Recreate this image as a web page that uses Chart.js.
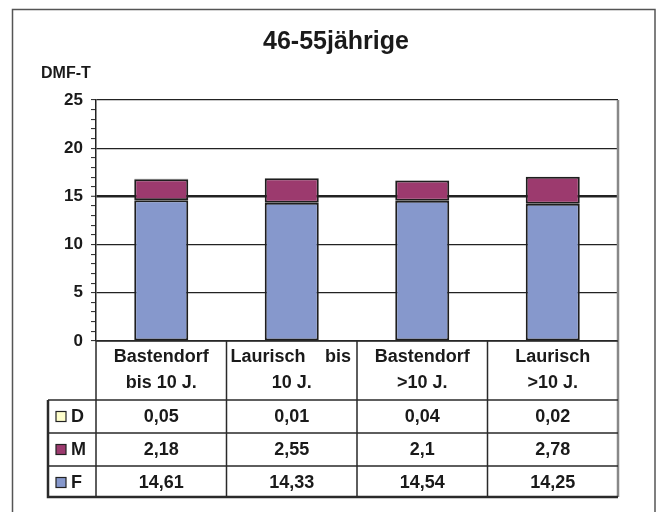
<!DOCTYPE html>
<html>
<head>
<meta charset="utf-8">
<script src="https://cdn.jsdelivr.net/npm/chart.js@4"></script>
<style>
  html, body { margin: 0; padding: 0; background: #fff; }
  canvas { display: block; }
</style>
</head>
<body>
<canvas id="myChart" width="656" height="512"></canvas>
<script>
const title = '46-55jährige';
const yTitle = 'DMF-T';
const categories = [
  ['Bastendorf', 'bis 10 J.'],
  ['Laurisch bis', '10 J.'],
  ['Bastendorf', '>10 J.'],
  ['Laurisch', '>10 J.']
];
const seriesNames = ['D', 'M', 'F'];
const valuesD = [0.05, 0.01, 0.04, 0.02];
const valuesM = [2.18, 2.55, 2.1, 2.78];
const valuesF = [14.61, 14.33, 14.54, 14.25];
const yTicks = [0, 5, 10, 15, 20, 25];

const colors = { D: '#ffffcc', M: '#9c3a6e', F: '#8698cc' };
const FONT = 'Arial, "Liberation Sans", sans-serif';
const fmt = v => String(v).replace('.', ',');

// frame, title, plot border and the data table under the bars
const tablePlugin = {
  id: 'dataTable',
  afterDraw(chart) {
    const c = chart.ctx;
    const area = chart.chartArea;
    const x = chart.scales.x;
    const half = (x.getPixelForValue(1) - x.getPixelForValue(0)) / 2;
    const edges = categories.map((_, i) => x.getPixelForValue(i) - half);
    edges.push(area.right);
    const headBottom = 400, rowH = 33, legendLeft = 48;
    const rows = seriesNames.map(name => ({
      name,
      vals: { D: valuesD, M: valuesM, F: valuesF }[name]
    }));
    const tableBottom = headBottom + rowH * rows.length - 2;

    c.save();
    // outer frame
    c.strokeStyle = '#555';
    c.lineWidth = 1.5;
    c.strokeRect(12.5, 9.5, 642.5, 520);

    // title
    c.fillStyle = '#1a1a1a';
    c.textBaseline = 'middle';
    c.textAlign = 'center';
    c.font = 'bold 25px ' + FONT;
    c.fillText(title, 336, 42);
    c.textAlign = 'left';
    c.font = 'bold 16px ' + FONT;
    c.fillText(yTitle, 41, 74);

    // right border of plot and table
    c.strokeStyle = '#888';
    c.lineWidth = 2.5;
    c.beginPath();
    c.moveTo(area.right, area.top);
    c.lineTo(area.right, tableBottom);
    c.stroke();

    // table lines
    c.strokeStyle = '#2a2a2a';
    c.lineWidth = 1.5;
    c.beginPath();
    c.moveTo(area.left, area.bottom);
    c.lineTo(area.right, area.bottom);
    edges.slice(0, -1).forEach(e => {
      c.moveTo(e, area.bottom);
      c.lineTo(e, tableBottom);
    });
    for (let r = 0; r < rows.length; r++) {
      const yy = headBottom + r * rowH;
      c.moveTo(legendLeft, yy);
      c.lineTo(area.right, yy);
    }
    c.stroke();
    c.lineWidth = 2.5;
    c.beginPath();
    c.moveTo(legendLeft, headBottom);
    c.lineTo(legendLeft, tableBottom);
    c.lineTo(area.right, tableBottom);
    c.stroke();

    // header cells: Excel-style justified lines, last line centred
    c.font = 'bold 18px ' + FONT;
    c.fillStyle = '#1a1a1a';
    categories.forEach((lines, i) => {
      const l = edges[i], r = edges[i + 1];
      lines.forEach((line, k) => {
        const yy = 357 + k * 26;
        const words = line.split(' ');
        if (k < lines.length - 1 && words.length > 1) {
          c.textAlign = 'left';
          c.fillText(words[0], l + 4, yy);
          c.textAlign = 'right';
          c.fillText(words[words.length - 1], r - 6, yy);
        } else {
          c.textAlign = 'center';
          c.fillText(line, (l + r) / 2, yy);
        }
      });
    });

    // value rows with legend keys
    rows.forEach((row, r) => {
      const yy = headBottom + r * rowH + rowH / 2;
      c.fillStyle = colors[row.name];
      c.fillRect(56, yy - 5, 10, 10);
      c.strokeStyle = '#222';
      c.lineWidth = 1.2;
      c.strokeRect(56, yy - 5, 10, 10);
      c.fillStyle = '#1a1a1a';
      c.textAlign = 'left';
      c.fillText(row.name, 71, yy + 1);
      c.textAlign = 'center';
      row.vals.forEach((v, i) => {
        c.fillText(fmt(v), (edges[i] + edges[i + 1]) / 2, yy + 1);
      });
    });
    c.restore();
  }
};

new Chart(document.getElementById('myChart'), {
  type: 'bar',
  data: {
    labels: categories,
    datasets: [
      { label: 'F', data: valuesF, backgroundColor: colors.F },
      { label: 'M', data: valuesM, backgroundColor: colors.M },
      { label: 'D', data: valuesD, backgroundColor: colors.D }
    ].map(d => Object.assign(d, {
      borderColor: '#1e1e1e',
      borderWidth: 2,
      borderSkipped: false,
      categoryPercentage: 1,
      barPercentage: 0.414
    }))
  },
  options: {
    responsive: false,
    animation: false,
    layout: { padding: { top: 100, bottom: 171, left: 0, right: 38 } },
    plugins: { legend: { display: false }, tooltip: { enabled: false } },
    scales: {
      x: { stacked: true, display: false },
      y: {
        stacked: true,
        min: 0,
        max: 25,
        afterFit: s => { s.width = 96; },
        border: { color: '#222', width: 1.5 },
        grid: {
          color: c => (c.tick && yTicks.includes(c.tick.value)) ? '#222' : 'rgba(0,0,0,0)',
          lineWidth: c => (c.tick && c.tick.value === 15) ? 2.5 : 1.2,
          tickColor: '#222',
          tickWidth: 1,
          tickLength: 5
        },
        ticks: {
          stepSize: 1,
          autoSkip: false,
          padding: 8,
          color: '#1a1a1a',
          font: { family: FONT, size: 17, weight: 'bold' },
          callback: v => yTicks.includes(v) ? v : ''
        }
      }
    }
  },
  plugins: [tablePlugin]
});
</script>
</body>
</html>
